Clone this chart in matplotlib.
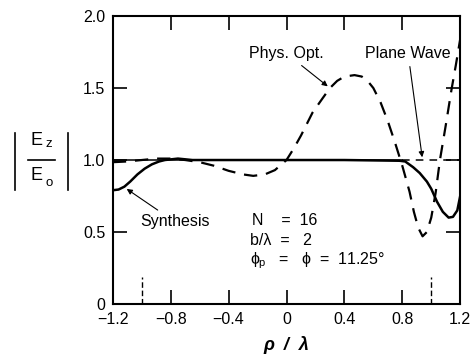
import matplotlib
matplotlib.use("Agg")
import matplotlib.pyplot as plt
from matplotlib.lines import Line2D

plt.rcParams["font.family"] = ["Liberation Sans", "DejaVu Sans"]
plt.rcParams["mathtext.fontset"] = "custom"
plt.rcParams["mathtext.rm"] = "Liberation Sans"
plt.rcParams["mathtext.it"] = "Liberation Sans"
plt.rcParams["mathtext.bf"] = "Liberation Sans:bold"
plt.rcParams["mathtext.fallback"] = "stixsans"

# physical-optics curve (dashed)
po_x = [-1.20, -1.10, -1.00, -0.90, -0.80, -0.70, -0.60, -0.50, -0.40, -0.30,
        -0.23, -0.15, -0.08, 0.00, 0.05, 0.10, 0.18, 0.25, 0.30, 0.35,
        0.40, 0.47, 0.52, 0.56, 0.60, 0.65, 0.70, 0.75, 0.80, 0.85,
        0.88, 0.91, 0.94, 0.97, 1.00, 1.03, 1.06, 1.10, 1.14, 1.17, 1.20]
po_y = [0.985, 0.99, 1.00, 1.01, 1.01, 1.00, 0.985, 0.96, 0.925, 0.90,
        0.89, 0.90, 0.93, 1.00, 1.08, 1.17, 1.33, 1.43, 1.50, 1.55,
        1.58, 1.59, 1.58, 1.55, 1.50, 1.40, 1.27, 1.12, 0.96, 0.78,
        0.64, 0.53, 0.47, 0.50, 0.60, 0.77, 1.00, 1.24, 1.49, 1.66, 1.84]

# synthesis curve (solid)
syn_x = [-1.20, -1.16, -1.12, -1.08, -1.03, -0.98, -0.93, -0.88, -0.84, -0.75,
         -0.65, -0.40, 0.00, 0.40, 0.78, 0.82, 0.875, 0.92, 0.97, 1.00,
         1.04, 1.08, 1.12, 1.15, 1.18, 1.20]
syn_y = [0.79, 0.795, 0.815, 0.85, 0.90, 0.94, 0.97, 0.99, 1.00, 1.01,
         1.00, 1.00, 1.00, 1.00, 0.995, 0.99, 0.95, 0.91, 0.85, 0.80,
         0.71, 0.64, 0.60, 0.605, 0.65, 0.75]

# plane wave: valid region solid, beyond dashed
pw_x = [-1.2, 0.8]
pw_y = [1.0, 1.0]
pw_ext_x = [0.8, 1.2]
pw_ext_y = [1.0, 1.0]

xticks = [-1.2, -0.8, -0.4, 0, 0.4, 0.8, 1.2]
xticklabels = ["\u22121.2", "\u22120.8", "\u22120.4", "0", "0.4", "0.8", "1.2"]
yticks = [0, 0.5, 1.0, 1.5, 2.0]
yticklabels = ["0", "0.5", "1.0", "1.5", "2.0"]
edge_marks = [-1.0, 1.0]

W, H = 472, 358
fig = plt.figure(figsize=(W / 100, H / 100), dpi=100)
ax = fig.add_axes([0.239, 0.151, 0.736, 0.804])

ax.plot(pw_x, pw_y, color="black", lw=1.1)
ax.plot(pw_ext_x, pw_ext_y, color="black", lw=1.1, dashes=(5, 4))
ax.plot(syn_x, syn_y, color="black", lw=1.8)
ax.plot(po_x, po_y, color="black", lw=1.6, dashes=(6, 4))
for xm in edge_marks:
    ax.axvline(xm, ymin=0, ymax=0.095, color="black", lw=1.0, dashes=(4, 2))

ax.set_xlim(-1.2, 1.2)
ax.set_ylim(0, 2.0)
ax.set_xticks(xticks)
ax.set_xticklabels(xticklabels)
ax.set_yticks(yticks)
ax.set_yticklabels(yticklabels)
ax.tick_params(direction="in", length=10, width=1.2, labelsize=11.5,
               top=True, right=True)
ax.tick_params(axis="x", pad=6)
ax.tick_params(axis="y", pad=5.5)
for s in ax.spines.values():
    s.set_linewidth(1.5)

ax.set_xlabel("\u03c1  /  \u03bb", fontsize=13, fontweight="bold", style="italic",
              labelpad=6)

# |Ez / Eo| label, built from pieces (positions in pixels from top-left)
def px(x, y):
    return x / W, 1 - y / H

fig.text(*px(37, 141), "E", fontsize=13, ha="center", va="center")
fig.text(*px(49, 144), "z", fontsize=9.5, ha="center", va="center")
fig.text(*px(37, 176), "E", fontsize=13, ha="center", va="center")
fig.text(*px(49, 183), "o", fontsize=9.5, ha="center", va="center")
for x0, x1, y0, y1 in [(28, 55, 160, 160), (15, 15, 133, 190), (68, 68, 133, 190)]:
    fig.add_artist(Line2D([x0 / W, x1 / W], [1 - y0 / H, 1 - y1 / H],
                          color="black", lw=1.2, transform=fig.transFigure))

arrow = dict(arrowstyle="-|>", color="black", lw=0.8, mutation_scale=8)
ax.annotate("Phys. Opt.", xy=(0.30, 1.50), xytext=(0.0, 1.74),
            fontsize=11.5, ha="center", va="center", arrowprops=arrow)
ax.annotate("Plane Wave", xy=(0.94, 1.0), xytext=(0.84, 1.74),
            fontsize=11.5, ha="center", va="center", arrowprops=arrow)
ax.annotate("Synthesis", xy=(-1.12, 0.81), xytext=(-1.01, 0.57),
            fontsize=11.5, ha="left", va="center", arrowprops=arrow)

ax.text(-0.235, 0.58, "N    =  16", fontsize=11.5, ha="left", va="center")
ax.text(-0.25, 0.44, "b/\u03bb  =   2", fontsize=11.5, ha="left", va="center")
ax.text(-0.25, 0.30, r"$\phi_\mathrm{p}$   =   $\phi$  =  11.25" + "\u00b0",
        fontsize=11.5, ha="left", va="center")

fig.savefig("out.png", dpi=100)
